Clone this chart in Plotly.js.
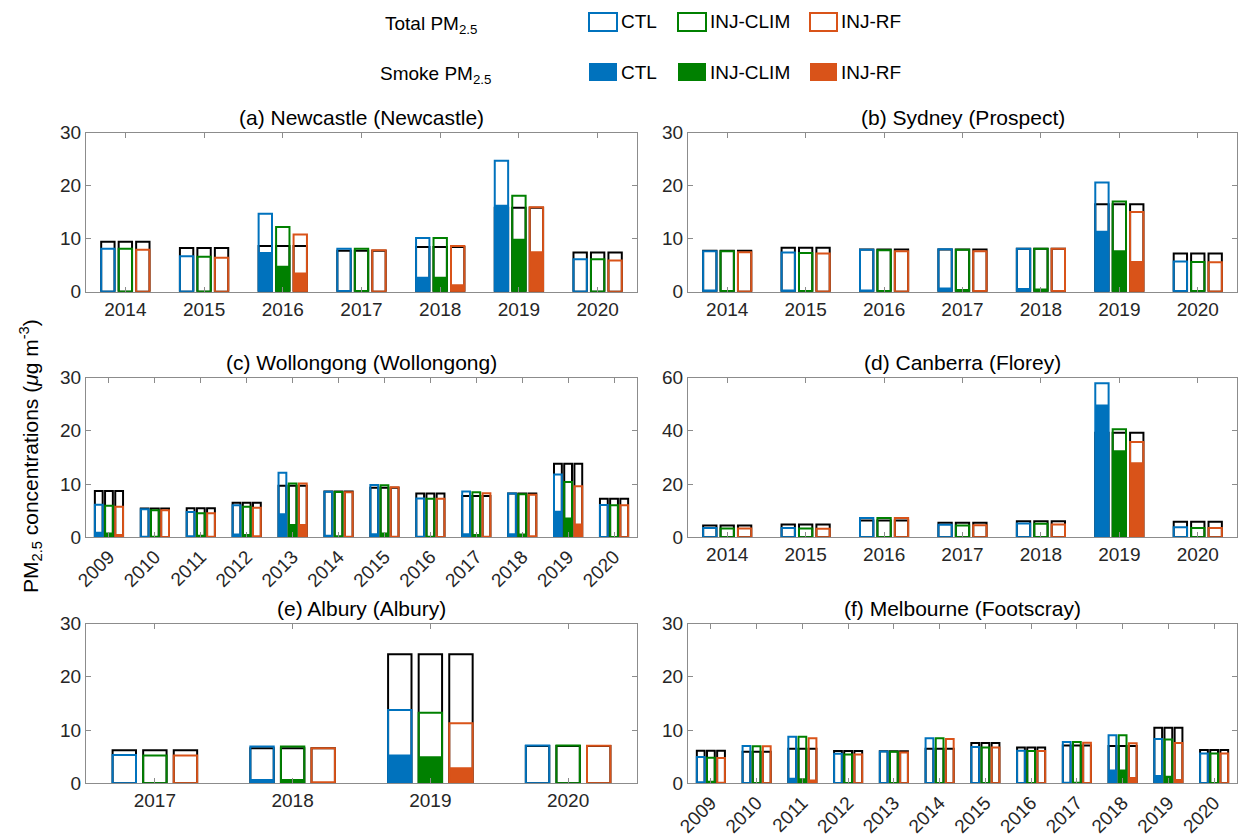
<!DOCTYPE html>
<html>
<head>
<meta charset="utf-8">
<script src="https://cdn.plot.ly/plotly-3.0.1.min.js"></script>
<style>html,body{margin:0;padding:0;background:#fff;} #chart{width:1243px;height:834px;}</style>
</head>
<body>
<div id="chart"></div>
<script>
// ---------------- DATA ----------------
const models = ['CTL', 'INJ-CLIM', 'INJ-RF'];

// (a) Newcastle (Newcastle)
const years_a = ['2014','2015','2016','2017','2018','2019','2020'];
const obs_a        = [9.4, 8.25, 8.6, 7.7, 8.4, 15.8, 7.4];
const ctlTotal_a   = [8.1, 6.7, 14.7, 8.1, 10.1, 24.7, 6.1];
const climTotal_a  = [8.1, 6.6, 12.2, 8.1, 10.1, 18.1, 6.1];
const rfTotal_a    = [7.9, 6.4, 10.8, 7.8, 8.6, 15.9, 5.9];
const ctlSmoke_a   = [0.2, 0.2, 7.5, 0.3, 2.8, 16.4, 0.2];
const climSmoke_a  = [0.2, 0.2, 4.9, 0.3, 2.8, 10.0, 0.2];
const rfSmoke_a    = [0.1, 0.1, 3.6, 0.2, 1.4, 7.6, 0.1];

// (b) Sydney (Prospect)
const years_b = ['2014','2015','2016','2017','2018','2019','2020'];
const obs_b        = [7.7, 8.3, 7.95, 7.95, 8.1, 16.5, 7.2];
const ctlTotal_b   = [7.6, 7.4, 7.9, 8.0, 8.1, 20.6, 5.7];
const climTotal_b  = [7.6, 7.3, 7.8, 7.9, 8.1, 17.0, 5.6];
const rfTotal_b    = [7.45, 7.2, 7.6, 7.6, 8.1, 15.0, 5.55];
const ctlSmoke_b   = [0.4, 0.4, 0.4, 0.8, 0.7, 11.5, 0.3];
const climSmoke_b  = [0.3, 0.3, 0.3, 0.5, 0.6, 7.8, 0.3];
const rfSmoke_b    = [0.2, 0.2, 0.2, 0.3, 0.3, 5.8, 0.2];

// (c) Wollongong (Wollongong)
const years_c = ['2009','2010','2011','2012','2013','2014','2015','2016','2017','2018','2019','2020'];
const obs_c        = [8.7, 5.4, 5.45, 6.5, 9.7, 8.6, 9.3, 8.2, 7.75, 8.2, 13.8, 7.25];
const ctlTotal_c   = [6.1, 5.25, 4.75, 6.0, 12.1, 8.55, 9.8, 7.3, 8.6, 8.2, 11.8, 6.05];
const climTotal_c  = [5.9, 5.1, 4.5, 5.75, 10.1, 8.5, 9.75, 7.25, 8.45, 8.1, 10.4, 6.0];
const rfTotal_c    = [5.75, 5.1, 4.5, 5.55, 10.1, 8.45, 9.4, 7.25, 8.25, 8.0, 9.6, 6.0];
const ctlSmoke_c   = [1.05, 0.3, 0.4, 0.7, 4.5, 0.5, 0.75, 0.3, 0.75, 0.75, 5.0, 0.2];
const climSmoke_c  = [0.9, 0.3, 0.5, 0.6, 2.5, 0.4, 0.9, 0.3, 0.6, 0.7, 3.7, 0.2];
const rfSmoke_c    = [0.6, 0.2, 0.3, 0.4, 2.5, 0.3, 0.3, 0.2, 0.3, 0.4, 2.6, 0.1];

// (d) Canberra (Florey)
const years_d = ['2014','2015','2016','2017','2018','2019','2020'];
const obs_d        = [4.4, 4.8, 6.3, 5.5, 6.05, 39.3, 5.8];
const ctlTotal_d   = [3.5, 3.5, 7.2, 4.7, 5.2, 57.8, 3.8];
const climTotal_d  = [3.3, 3.3, 7.2, 4.4, 5.05, 40.6, 3.5];
const rfTotal_d    = [3.3, 3.2, 7.2, 4.5, 4.8, 35.8, 3.5];
const ctlSmoke_d   = [0.2, 0.2, 0.3, 0.2, 0.3, 49.9, 0.2];
const climSmoke_d  = [0.2, 0.2, 0.3, 0.2, 0.3, 32.7, 0.2];
const rfSmoke_d    = [0.1, 0.1, 0.2, 0.1, 0.2, 28.2, 0.1];

// (e) Albury (Albury)
const years_e = ['2017','2018','2019','2020'];
const obs_e        = [6.2, 6.6, 24.25, 7.0];
const ctlTotal_e   = [5.3, 6.9, 13.75, 7.1];
const climTotal_e  = [5.2, 6.9, 13.25, 7.1];
const rfTotal_e    = [5.2, 6.6, 11.25, 7.05];
const ctlSmoke_e   = [0.1, 0.8, 5.4, 0.1];
const climSmoke_e  = [0.1, 0.8, 5.1, 0.1];
const rfSmoke_e    = [0.1, 0.4, 3.0, 0.1];

// (f) Melbourne (Footscray)
const years_f = ['2009','2010','2011','2012','2013','2014','2015','2016','2017','2018','2019','2020'];
const obs_f        = [6.1, 5.9, 6.5, 6.05, 6.0, 6.5, 7.55, 6.7, 7.1, 7.0, 10.45, 6.25];
const ctlTotal_f   = [4.95, 7.0, 8.75, 5.55, 5.95, 8.45, 6.8, 6.1, 7.75, 9.0, 8.3, 5.6];
const climTotal_f  = [4.8, 6.95, 8.75, 5.4, 5.9, 8.45, 6.7, 6.05, 7.75, 9.0, 8.2, 5.6];
const rfTotal_f    = [4.75, 6.95, 8.45, 5.4, 5.8, 8.3, 6.7, 6.05, 7.6, 7.5, 7.55, 5.6];
const ctlSmoke_f   = [0.4, 0.2, 1.05, 0.2, 0.2, 0.2, 0.2, 0.2, 0.3, 2.6, 1.55, 0.2];
const climSmoke_f  = [0.5, 0.2, 0.95, 0.2, 0.2, 0.2, 0.2, 0.2, 0.3, 2.6, 1.4, 0.2];
const rfSmoke_f    = [0.3, 0.1, 0.7, 0.1, 0.1, 0.1, 0.1, 0.1, 0.2, 1.2, 0.8, 0.1];

const panelTitles = ['(a) Newcastle (Newcastle)', '(b) Sydney (Prospect)',
  '(c) Wollongong (Wollongong)', '(d) Canberra (Florey)',
  '(e) Albury (Albury)', '(f) Melbourne (Footscray)'];
const yTicks_30 = [0, 10, 20, 30];
const yTicks_60 = [0, 20, 40, 60];

// ---------------- STYLE ----------------
const W = 1243, H = 834;
const colors = ['#0072BD', '#008000', '#D95319'];
const FONT = 'Liberation Sans, Arial, Helvetica, sans-serif';
const TXT = '#262626';
const AXC = '#8c8c8c';
const barW = 0.17;
const centers = [-0.222, 0, 0.222];

const panels = [
  {years: years_a, obs: obs_a, tot: [ctlTotal_a, climTotal_a, rfTotal_a], smk: [ctlSmoke_a, climSmoke_a, rfSmoke_a], ymax: 30, ticks: yTicks_30, rot: false},
  {years: years_b, obs: obs_b, tot: [ctlTotal_b, climTotal_b, rfTotal_b], smk: [ctlSmoke_b, climSmoke_b, rfSmoke_b], ymax: 30, ticks: yTicks_30, rot: false},
  {years: years_c, obs: obs_c, tot: [ctlTotal_c, climTotal_c, rfTotal_c], smk: [ctlSmoke_c, climSmoke_c, rfSmoke_c], ymax: 30, ticks: yTicks_30, rot: true},
  {years: years_d, obs: obs_d, tot: [ctlTotal_d, climTotal_d, rfTotal_d], smk: [ctlSmoke_d, climSmoke_d, rfSmoke_d], ymax: 60, ticks: yTicks_60, rot: false},
  {years: years_e, obs: obs_e, tot: [ctlTotal_e, climTotal_e, rfTotal_e], smk: [ctlSmoke_e, climSmoke_e, rfSmoke_e], ymax: 30, ticks: yTicks_30, rot: false},
  {years: years_f, obs: obs_f, tot: [ctlTotal_f, climTotal_f, rfTotal_f], smk: [ctlSmoke_f, climSmoke_f, rfSmoke_f], ymax: 30, ticks: yTicks_30, rot: true}
];

// pixel boxes of the plot areas
const colX = [[86, 637], [688, 1237]];
const rowY = [[132.5, 291.7], [377.5, 537.3], [623.5, 783.3]];
const px = v => v / W;
const py = v => 1 - v / H;

const traces = [];
const layout = {
  width: W, height: H,
  margin: {l: 0, r: 0, t: 0, b: 0},
  paper_bgcolor: '#fff', plot_bgcolor: 'rgba(0,0,0,0)',
  barmode: 'overlay',
  showlegend: false,
  hovermode: false,
  font: {family: FONT, color: TXT, size: 19},
  annotations: [], shapes: []
};

panels.forEach((p, i) => {
  const col = i % 2, row = Math.floor(i / 2);
  const xa = 'x' + (i === 0 ? '' : i + 1), ya = 'y' + (i === 0 ? '' : i + 1);
  const xk = 'xaxis' + (i === 0 ? '' : i + 1), yk = 'yaxis' + (i === 0 ? '' : i + 1);
  const [x0, x1] = colX[col], [y0, y1] = rowY[row];
  layout[xk] = {
    domain: [px(x0), px(x1)], anchor: ya, type: 'category',
    range: [-0.5, p.years.length - 0.5],
    showline: true, linecolor: AXC, linewidth: 1, mirror: 'ticks',
    ticks: 'inside', ticklen: 5, tickcolor: AXC, tickwidth: 1,
    tickfont: {size: 19, color: TXT, family: FONT},
    tickangle: p.rot ? -45 : 0, showgrid: false, zeroline: false, fixedrange: true
  };
  layout[yk] = {
    domain: [py(y1), py(y0)], anchor: xa,
    range: [0, p.ymax], tickvals: p.ticks,
    showline: true, linecolor: AXC, linewidth: 1, mirror: 'ticks',
    ticks: 'inside', ticklen: 5, tickcolor: AXC, tickwidth: 1,
    tickfont: {size: 19, color: TXT, family: FONT},
    showgrid: false, zeroline: false, fixedrange: true
  };
  // observations (black open boxes), one behind each model bar
  for (let m = 0; m < 3; m++) {
    traces.push({type: 'bar', x: p.years, y: p.obs, xaxis: xa, yaxis: ya,
      width: barW, offset: centers[m] - barW / 2,
      marker: {color: 'rgba(0,0,0,0)', line: {color: '#000', width: 2}}});
  }
  // smoke PM2.5 (filled)
  for (let m = 0; m < 3; m++) {
    traces.push({type: 'bar', x: p.years, y: p.smk[m], xaxis: xa, yaxis: ya, name: models[m],
      width: barW, offset: centers[m] - barW / 2,
      marker: {color: colors[m], line: {width: 0}}});
  }
  // total PM2.5 (open boxes)
  for (let m = 0; m < 3; m++) {
    traces.push({type: 'bar', x: p.years, y: p.tot[m], xaxis: xa, yaxis: ya, name: models[m],
      width: barW, offset: centers[m] - barW / 2,
      marker: {color: 'rgba(0,0,0,0)', line: {color: colors[m], width: 2}}});
  }
  layout.annotations.push({
    text: panelTitles[i], xref: 'paper', yref: 'paper',
    x: px((x0 + x1) / 2), y: py(y0 - 15), xanchor: 'center', yanchor: 'middle',
    showarrow: false, font: {size: 21, color: '#000', family: FONT}
  });
});

// y axis title
layout.annotations.push({
  text: 'PM<sub>2.5</sub> concentrations (<i>μ</i>g m<sup>-3</sup>)',
  xref: 'paper', yref: 'paper', x: px(30), y: py(456), xanchor: 'center', yanchor: 'middle',
  textangle: -90, showarrow: false, font: {size: 21, color: '#000', family: FONT}
});

// custom legend
const legRows = [{label: 'Total PM<sub>2.5</sub>', yc: 22, tx: 383, filled: false},
                 {label: 'Smoke PM<sub>2.5</sub>', yc: 72, tx: 378, filled: true}];
const legBox = [[589, 617], [678, 706], [810, 837]];
legRows.forEach(r => {
  layout.annotations.push({text: r.label, xref: 'paper', yref: 'paper',
    x: px(r.tx), y: py(r.yc + 3), xanchor: 'left', yanchor: 'middle', showarrow: false,
    font: {size: 19, color: '#000', family: FONT}});
  for (let m = 0; m < 3; m++) {
    layout.shapes.push({type: 'rect', xref: 'paper', yref: 'paper',
      x0: px(legBox[m][0]), x1: px(legBox[m][1]), y0: py(r.yc + 9), y1: py(r.yc - 9),
      line: {color: colors[m], width: r.filled ? 0 : 2},
      fillcolor: r.filled ? colors[m] : 'rgba(0,0,0,0)'});
    layout.annotations.push({text: models[m], xref: 'paper', yref: 'paper',
      x: px(legBox[m][1] + 2), y: py(r.yc), xanchor: 'left', yanchor: 'middle', showarrow: false,
      font: {size: 19, color: '#000', family: FONT}});
  }
});

Plotly.newPlot('chart', traces, layout, {staticPlot: true, displayModeBar: false});
</script>
</body>
</html>
